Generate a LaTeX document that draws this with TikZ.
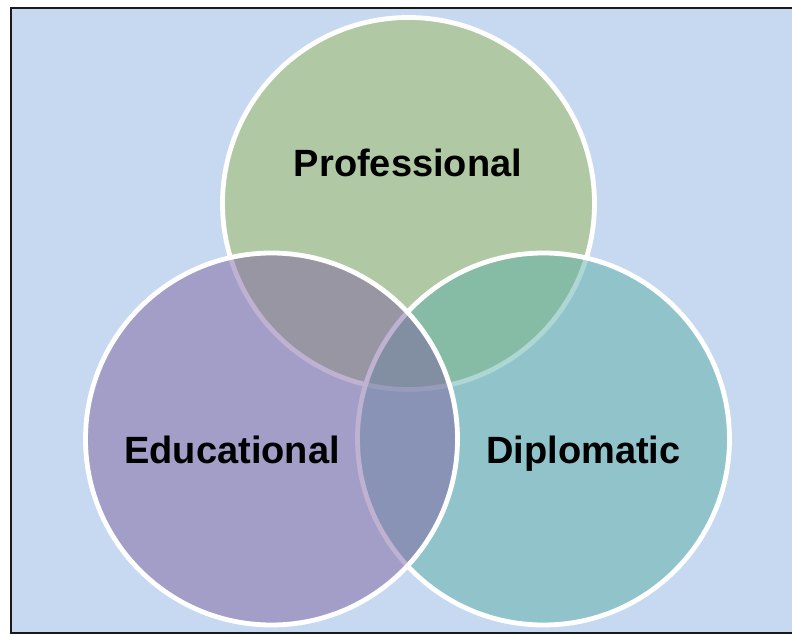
\documentclass[tikz,border=0pt]{standalone}
\usepackage{fontspec}
\setmainfont{Liberation Sans}
\definecolor{bgblue}{HTML}{C6D9F0}
\definecolor{profgreen}{HTML}{9BBB59}
\definecolor{edupurple}{HTML}{8064A2}
\definecolor{dipteal}{HTML}{5EAFA8}
\definecolor{frame}{HTML}{1A1A1A}
\tikzset{
  venn/.style={circle, minimum size=372pt, inner sep=0pt, draw=white, line width=4.8pt, fill opacity=0.5, draw opacity=1},
  lbl/.style={font=\fontsize{38}{44}\selectfont\bfseries, text=black, anchor=base, inner sep=0pt}
}
\begin{document}
\begin{tikzpicture}[x=1pt,y=1pt]
\useasboundingbox (0,0) rectangle (792,635);
\draw[fill=bgblue, draw=frame, line width=1.6pt] (10.8,2) rectangle (800,627);
\node[venn, fill=profgreen] (prof) at (408.5,431.5) {};
\node[venn, fill=dipteal] (dip) at (543.5,196) {};
\node[venn, fill=edupurple] (edu) at (271.5,196) {};
\node[lbl] (tprof) at (408,458) {Professional};
\node[lbl] (tedu) at (232,172) {Educational};
\node[lbl] (tdip) at (583.5,172) {Diplomatic};
\end{tikzpicture}
\end{document}
